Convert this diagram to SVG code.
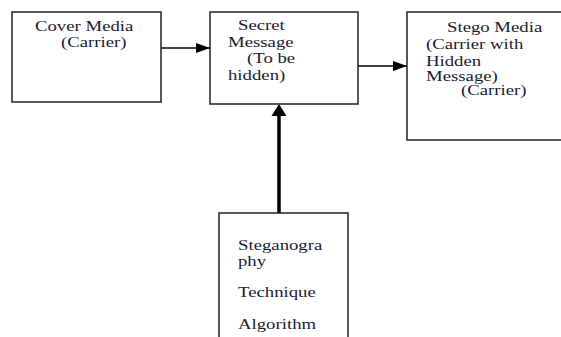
<svg xmlns="http://www.w3.org/2000/svg" width="561" height="337" viewBox="0 0 561 337">
  <style>
    .box { fill: #ffffff; stroke: #222222; stroke-width: 1.5; }
    .lbl { font-family: "Liberation Serif", "Times New Roman", serif; font-size: 15px; fill: #1c1c30; }
    .wire { stroke: #000000; stroke-width: 1.6; fill: none; }
    .wire-thick { stroke: #000000; stroke-width: 3.5; fill: none; }
  </style>
  <defs>
    <marker id="head" viewBox="0 0 14 10" refX="14" refY="5" markerWidth="14" markerHeight="10" markerUnits="userSpaceOnUse" orient="auto">
      <path d="M0,0 L14,5 L0,10 Z" fill="#000000"/>
    </marker>
  </defs>
  <rect width="561" height="337" fill="#ffffff"/>

  <g id="connectors">
    <line class="wire" x1="161" y1="48" x2="210" y2="48" marker-end="url(#head)"/>
    <line class="wire" x1="358" y1="66" x2="407" y2="66" marker-end="url(#head)"/>
    <line class="wire-thick" x1="279" y1="213" x2="279" y2="116"/>
    <path d="M271.5,116 L279,104 L286.5,116 Z" fill="#000000"/>
  </g>

  <g id="cover-media">
    <rect class="box" x="12" y="12" width="149" height="90"/>
    <text class="lbl" transform="translate(35,31) scale(1.25,1)">Cover Media</text>
    <text class="lbl" transform="translate(61,47) scale(1.25,1)">(Carrier)</text>
  </g>

  <g id="secret-message">
    <rect class="box" x="210" y="12" width="148" height="92"/>
    <text class="lbl" transform="translate(238,30) scale(1.25,1)">Secret</text>
    <text class="lbl" transform="translate(228,47) scale(1.25,1)">Message</text>
    <text class="lbl" transform="translate(247,63) scale(1.25,1)">(To be</text>
    <text class="lbl" transform="translate(228,80) scale(1.25,1)">hidden)</text>
  </g>

  <g id="stego-media">
    <rect class="box" x="407" y="12" width="160" height="128"/>
    <text class="lbl" transform="translate(447,32) scale(1.25,1)">Stego Media</text>
    <text class="lbl" transform="translate(426,49) scale(1.25,1)">(Carrier with</text>
    <text class="lbl" transform="translate(426,66) scale(1.25,1)">Hidden</text>
    <text class="lbl" transform="translate(426,81) scale(1.25,1)">Message)</text>
    <text class="lbl" transform="translate(461,95) scale(1.25,1)">(Carrier)</text>
  </g>

  <g id="technique">
    <rect class="box" x="219" y="213" width="129" height="140"/>
    <text class="lbl" transform="translate(238,250) scale(1.25,1)">Steganogra</text>
    <text class="lbl" transform="translate(238,266) scale(1.25,1)">phy</text>
    <text class="lbl" transform="translate(238,297) scale(1.25,1)">Technique</text>
    <text class="lbl" transform="translate(238,329) scale(1.25,1)">Algorithm</text>
  </g>
</svg>
